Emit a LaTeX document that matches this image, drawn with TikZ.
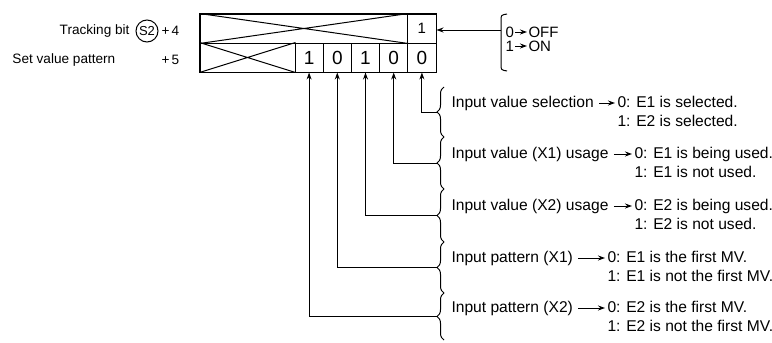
\documentclass[tikz,border=0pt]{standalone}
\usepackage{fontspec}
\setmainfont{Liberation Sans}
\usetikzlibrary{arrows.meta,positioning,decorations.pathreplacing}
\newcommand\cellw{28.2pt}
\newcommand\rowh{29pt}
\newcommand\bracex{444}
\newcommand\txtx{449}

\tikzset{
	cell/.style={draw, minimum width=\cellw, minimum height=\rowh, inner sep=0pt, font=\fontsize{19}{19}\selectfont},
	crossbox/.style={draw, minimum height=\rowh, inner sep=0pt},
	txt/.style={inner xsep=2pt, inner ysep=2pt, text height=11pt, text depth=3pt, font=\fontsize{15.6}{18}\selectfont},
	lbl/.style={inner sep=1pt, font=\fontsize{13.6}{15}\selectfont},
	swtxt/.style={inner sep=1pt, font=\fontsize{15}{15}\selectfont},
	grp/.style={decorate, decoration={brace, amplitude=7pt}},
}

\begin{document}
\begin{tikzpicture}[x=1pt, y=-1pt, >={Stealth[length=7pt,width=5pt]}, line width=1pt]
	\useasboundingbox (0,0) rectangle (772,343);
	
	%word +4
	\node[crossbox, minimum width=207.8pt] (xt) at (303.9,28.5) {};
	\node[cell, font=\fontsize{15}{15}\selectfont] (t1) at (421.9,28.5) {1};
	\draw (xt.north west) -- (xt.south east) (xt.south west) -- (xt.north east);
	
	%word +5
	\node[crossbox, minimum width=95pt] (xb) at (247.5,57.5) {};
	\node[cell] (c1) at (309.1,57.5) {1};
	\node[cell] (c2) at (337.3,57.5) {0};
	\node[cell] (c3) at (365.5,57.5) {1};
	\node[cell] (c4) at (393.7,57.5) {0};
	\node[cell] (c5) at (421.9,57.5) {0};
	\draw (xb.north west) -- (xb.south east) (xb.south west) -- (xb.north east);
	\draw[line width=1.6pt] (xt.north west) rectangle (c5.south east);
	
	%left labels
	\node[circle, draw, inner sep=0pt, minimum size=22pt, font=\fontsize{13}{13}\selectfont] (s2) at (147,31) {S2};
	\node[lbl, anchor=east] (track) at (131,31) {Tracking bit};
	\node[lbl, anchor=west] (plus4) at (160,31) {+\,4};
	\node[lbl, anchor=west] (setval) at (11,60) {Set value pattern};
	\node[lbl, anchor=west] (plus5) at (160,60) {+\,5};
	
	%ON / OFF
	\draw (507,14) .. controls (501,15) .. (501,21) -- (501,64) .. controls (501,70) .. (507,71);
	\coordinate (onoff) at (501,30);
	\draw[->] (onoff) -- (onoff -| t1.east);
	\node[swtxt, anchor=west] (zero) at (504,32) {0};
	\node[swtxt, anchor=west] (off) at (527,32) {OFF};
	\node[swtxt, anchor=west] (one) at (504,46) {1};
	\node[swtxt, anchor=west] (on) at (527,46) {ON};
	\draw[->] (zero) -- (off);
	\draw[->] (one) -- (on);
	
	%braces
	\draw[grp] (\bracex,137) -- (\bracex,87);
	\draw[grp] (\bracex,189) -- (\bracex,137);
	\draw[grp] (\bracex,242) -- (\bracex,189);
	\draw[grp] (\bracex,293) -- (\bracex,242);
	\draw[grp] (\bracex,340) -- (\bracex,293);
	\coordinate (b1) at (437,112);
	\coordinate (b2) at (437,163);
	\coordinate (b3) at (437,215.5);
	\coordinate (b4) at (437,267.5);
	\coordinate (b5) at (437,316.5);
	
	%bits to braces
	\draw[<-] (c5.south) |- (b1);
	\draw[<-] (c4.south) |- (b2);
	\draw[<-] (c3.south) |- (b3);
	\draw[<-] (c2.south) |- (b4);
	\draw[<-] (c1.south) |- (b5);
	
	%meanings
	\node[txt, anchor=west] (sel) at (\txtx,103) {Input value selection};
	\node[txt, anchor=west] (sel0) at (615,103) {0: E1 is selected.};
	\node[txt, anchor=north west] (sel1) at (sel0.south west) {1: E2 is selected.};
	\draw[->, shorten <=3pt] (sel) -- (sel0);
	
	\node[txt, anchor=west] (use1) at (\txtx,154) {Input value (X1) usage};
	\node[txt, anchor=west] (use10) at (632,154) {0: E1 is being used.};
	\node[txt, anchor=north west] (use11) at (use10.south west) {1: E1 is not used.};
	\draw[->, shorten <=3pt] (use1) -- (use10);
	
	\node[txt, anchor=west] (use2) at (\txtx,206) {Input value (X2) usage};
	\node[txt, anchor=west] (use20) at (632,206) {0: E2 is being used.};
	\node[txt, anchor=north west] (use21) at (use20.south west) {1: E2 is not used.};
	\draw[->, shorten <=3pt] (use2) -- (use20);
	
	\node[txt, anchor=west] (pat1) at (\txtx,258) {Input pattern (X1)};
	\node[txt, anchor=west] (pat10) at (605,258) {0: E1 is the first MV.};
	\node[txt, anchor=north west] (pat11) at (pat10.south west) {1: E1 is not the first MV.};
	\draw[->, shorten <=3pt] (pat1) -- (pat10);
	
	\node[txt, anchor=west] (pat2) at (\txtx,308) {Input pattern (X2)};
	\node[txt, anchor=west] (pat20) at (605,308) {0: E2 is the first MV.};
	\node[txt, anchor=north west] (pat21) at (pat20.south west) {1: E2 is not the first MV.};
	\draw[->, shorten <=3pt] (pat2) -- (pat20);
\end{tikzpicture}
\end{document}
